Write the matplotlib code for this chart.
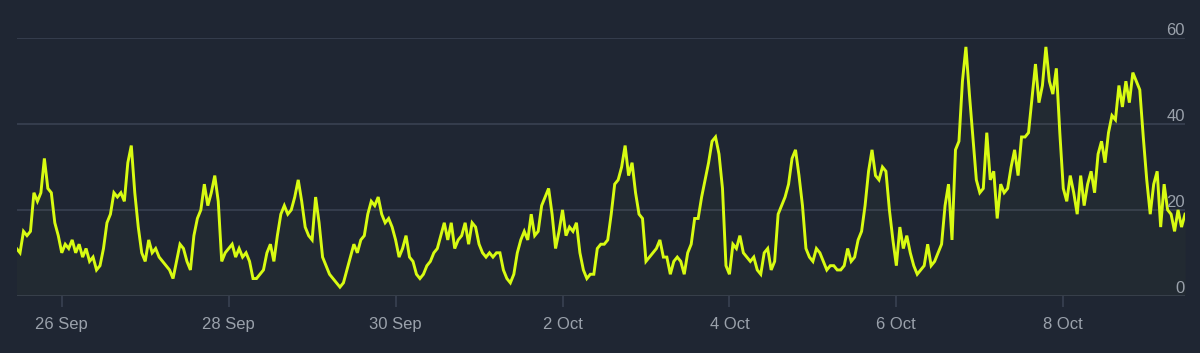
import matplotlib
matplotlib.use("Agg")
import matplotlib.pyplot as plt
import matplotlib.dates as mdates
import pandas as pd
import numpy as np

# ---- data (hourly readings, starting 25 Sep 11:00) ----
start_time = "2024-09-25 11:00"
vals_25_26 = [11,
              10, 15, 14, 15, 24, 22, 24, 32, 25, 24, 17, 14, 10, 12, 11, 13, 10, 12, 9, 11, 8, 9, 6, 7,
              11, 17, 19, 24, 23, 24, 22, 31, 35, 24, 16, 10, 8, 13, 10, 11, 9, 8, 7, 6, 4, 8, 12, 11]
vals_27_28 = [8, 6, 14, 18, 20, 26, 21, 24, 28, 22, 8, 10, 11, 12, 9, 11, 9, 10, 8, 4, 4, 5, 6, 10,
              12, 8, 14, 19, 21, 19, 20, 23, 27, 22, 16, 14, 13, 23, 17, 9, 7, 5, 4, 3, 2, 3, 6, 9,
              12]
vals_29_30 = [10, 13, 14, 19, 22, 21, 23, 19, 17, 18, 16, 13, 9, 11, 14, 9, 8, 5, 4, 5, 7, 8, 10, 11,
              14, 17, 13, 17, 11, 13, 14, 17, 12, 17, 16, 12, 10, 9, 10, 9, 10, 10, 6, 4, 3, 5, 10, 13,
              15]
vals_01_02 = [13, 19, 14, 15, 21, 23, 25, 19, 11, 15, 20, 14, 16, 15, 17, 10, 6, 4, 5, 5, 11, 12, 12, 13,
              19, 26, 27, 30, 35, 28, 31, 24, 19, 18, 8, 9, 10, 11, 13, 9, 9, 5, 8, 9, 8, 5, 10, 12, 18]
vals_03_04 = [18, 23, 27, 31, 36, 37, 33, 25, 7, 5, 12, 11, 14, 10, 9, 8, 9, 6, 5, 10, 11, 6, 8, 19,
              21, 23, 26, 32, 34, 28, 21, 11, 9, 8, 11, 10, 8, 6, 7, 7, 6, 6, 7, 11, 8, 9, 13, 15]
vals_05_06 = [21, 29, 34, 28, 27, 30, 29, 20, 13, 7, 16, 11, 14, 10, 7, 5, 6, 7, 12, 7, 8, 10, 12, 21,
              26, 13, 34, 36, 50, 58, 47, 37, 27, 24, 25, 38, 27, 29, 18, 26, 24, 25, 30, 34, 28, 37, 37, 38,
              46]
vals_07_08 = [54, 45, 49, 58, 50, 47, 53, 38, 25, 22, 28, 24, 19, 28, 21, 26, 29, 24, 33, 36, 31, 38, 42, 41,
              49, 44, 50, 45, 52, 50, 48, 37, 27, 19, 26, 29, 16, 26, 20, 19, 15, 20, 16, 19]

values = vals_25_26 + vals_27_28 + vals_29_30 + vals_01_02 + vals_03_04 + vals_05_06 + vals_07_08
times = pd.date_range(start_time, periods=len(values), freq="h")

x_ticks = pd.date_range("2024-09-26", "2024-10-08", freq="2D")
y_ticks = [0, 20, 40, 60]

# ---- style ----
BG = "#1f2633"
GRID = "#3b4454"
TEXT = "#9aa1ab"
LINE = "#d8fb12"

plt.rcParams["font.family"] = ["Liberation Sans", "DejaVu Sans"]

fig = plt.figure(figsize=(12, 3.53), dpi=100, facecolor=BG)
ax = fig.add_axes([17.3 / 1200, 57.3 / 353, (1185 - 17.3) / 1200, 257.4 / 353])
ax.set_facecolor(BG)

ax.plot(times, values, color=LINE, lw=2.1, solid_joinstyle="miter", zorder=3)
ax.fill_between(times, values, 0, color=LINE, alpha=0.02, lw=0, zorder=2)

ax.set_ylim(0, 60)
ax.set_xlim(pd.Timestamp("2024-09-25 11:13"), times[-1])

for s in ax.spines.values():
    s.set_visible(False)

ax.set_yticks(y_ticks)
ax.yaxis.grid(True, color=GRID, lw=1.1)
ax.set_axisbelow(True)
ax.tick_params(axis="y", left=False, right=False, labelleft=False, labelright=False)
for v in y_ticks:
    ax.annotate(str(v), xy=(1, v), xycoords=("axes fraction", "data"),
                xytext=(0, 3), textcoords="offset pixels",
                ha="right", va="baseline", color=TEXT, fontsize=12, zorder=4)

ax.set_xticks(x_ticks)
ax.xaxis.set_major_formatter(mdates.DateFormatter("%-d %b"))
ax.tick_params(axis="x", colors=GRID, length=8, width=1.1, pad=7,
               labelcolor=TEXT, labelsize=12)

fig.savefig("out.png", dpi=100, facecolor=BG)
